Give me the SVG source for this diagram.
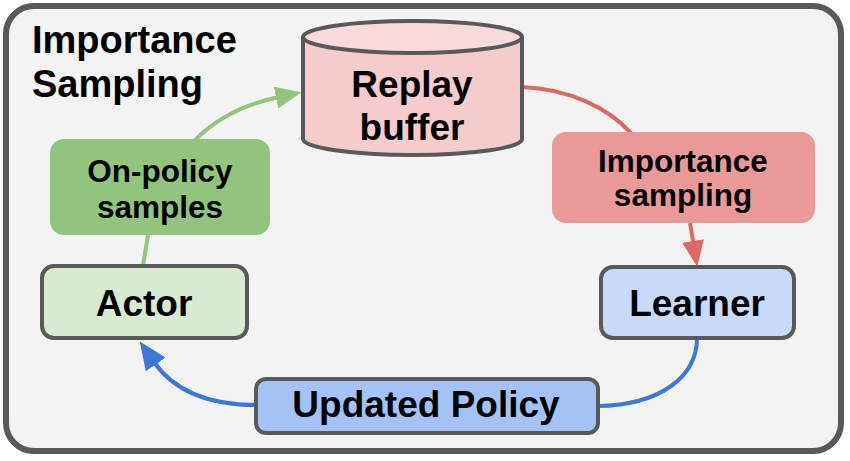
<svg xmlns="http://www.w3.org/2000/svg" width="850" height="461" viewBox="0 0 850 461">
<style>
text{font-family:"Liberation Sans",Arial,sans-serif;font-weight:bold;fill:#000;text-anchor:middle}
.big{font-size:37px}
.mid{font-size:31.5px}
.node{stroke:#595959;stroke-width:4}
.conn{fill:none;stroke-width:4}
</style>
<defs>
<marker id="ag" markerUnits="userSpaceOnUse" viewBox="0 0 26 22" markerWidth="26" markerHeight="22" refX="3" refY="11" orient="auto"><path d="M0,0 L26,11 L0,22 z" fill="#93c47d"/></marker>
<marker id="ar" markerUnits="userSpaceOnUse" viewBox="0 0 26 22" markerWidth="26" markerHeight="22" refX="3" refY="11" orient="auto"><path d="M0,0 L26,11 L0,22 z" fill="#e06666"/></marker>
<marker id="ab" markerUnits="userSpaceOnUse" viewBox="0 0 28 24" markerWidth="28" markerHeight="24" refX="3" refY="12" orient="auto"><path d="M0,0 L28,12 L0,24 z" fill="#3c78d8"/></marker>
</defs>
<rect x="6" y="6" width="835" height="445" rx="28" fill="#f3f3f3" stroke="#595959" stroke-width="6"/>
<g id="title">
<text x="32" y="53" style="font-size:38px;text-anchor:start">Importance</text>
<text x="32" y="97" style="font-size:38px;text-anchor:start">Sampling</text>
</g>
<g id="connectors">
<path class="conn" stroke="#93c47d" d="M143,266 C144,258 146,248 148,235"/>
<path class="conn" stroke="#93c47d" d="M195,140 C218,117 245,104 279,97" marker-end="url(#ag)"/>
<path class="conn" stroke="#e06666" d="M522,87 C570,89 608,108 631,133"/>
<path class="conn" stroke="#e06666" d="M690,223 L693.5,244" marker-end="url(#ar)"/>
<path class="conn" stroke="#3c78d8" d="M697,338 C697,377 660,405 598,406"/>
<path class="conn" stroke="#3c78d8" d="M256,405 C205,405 172,388 154,362" marker-end="url(#ab)"/>
</g>
<g id="replay-buffer">
<path class="node" fill="#f4cccc" d="M303,37 L303,139 A109.5,16 0 0 0 522,139 L522,37"/>
<ellipse class="node" cx="412.5" cy="37" rx="109.5" ry="16" fill="#f8dada"/>
<text class="big" x="412" y="97">Replay</text>
<text class="big" x="412" y="140">buffer</text>
</g>
<g id="on-policy-samples">
<rect x="50" y="139" width="220" height="96" rx="14" fill="#93c47d"/>
<text class="mid" x="160" y="182">On-policy</text>
<text class="mid" x="160" y="218">samples</text>
</g>
<g id="importance-sampling">
<rect x="552" y="132" width="263" height="91" rx="14" fill="#ea9999"/>
<text class="mid" x="683" y="172">Importance</text>
<text class="mid" x="683" y="206">sampling</text>
</g>
<g id="actor">
<rect class="node" x="42" y="266" width="205" height="72" rx="12" fill="#d9ead3"/>
<text class="big" x="144" y="316">Actor</text>
</g>
<g id="learner">
<rect class="node" x="601" y="267" width="193" height="71" rx="12" fill="#c9daf8"/>
<text class="big" x="697" y="316">Learner</text>
</g>
<g id="updated-policy">
<rect class="node" x="256" y="379" width="342" height="54" rx="10" fill="#a4c2f4"/>
<text class="big" x="426" y="417">Updated Policy</text>
</g>
</svg>
